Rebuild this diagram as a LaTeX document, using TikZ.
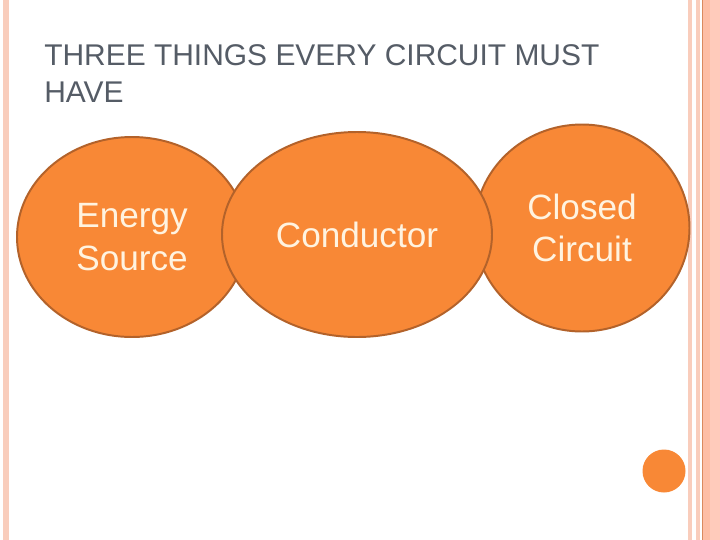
\documentclass[tikz,border=0pt]{standalone}
\usepackage{fontspec}
\setmainfont{Liberation Sans}
\usetikzlibrary{shapes.geometric}
\definecolor{blobFill}{HTML}{F88836}
\definecolor{blobLine}{HTML}{B3622A}
\definecolor{blobText}{HTML}{FFF3E0}
\definecolor{titleGray}{HTML}{555C66}
\definecolor{stripeLight}{HTML}{F9CDBC}
\definecolor{stripePeach}{HTML}{FDBEA5}
\definecolor{stripePink}{HTML}{FFCBBB}
\definecolor{stripeDark}{HTML}{D98A5E}

\begin{document}
\begin{tikzpicture}[
    blob/.style={ellipse, fill=blobFill, draw=blobLine, line width=1.4pt,
                 align=center, inner sep=0pt, text=blobText,
                 font=\fontsize{25}{30}\selectfont},
  ]
    \useasboundingbox (0,0) rectangle (18,-13.5);
    \fill[white] (0,0) rectangle (18,-13.5);

    % side stripes
    \fill[stripeLight] (0.075,0) rectangle (0.225,-13.5);
    \fill[stripeLight] (17.2,0) rectangle (17.3,-13.5);
    \fill[stripeLight] (17.4,0) rectangle (17.5,-13.5);
    \fill[stripePeach] (17.55,0) rectangle (17.75,-13.5);
    \fill[stripePink]  (17.75,0) rectangle (18,-13.5);
    \fill[stripeDark]  (17.55,0) rectangle (17.585,-13.5);

    % title
    \node[anchor=north west, inner sep=0pt, align=left, text=titleGray,
          font=\fontsize{21.3}{26.3}\selectfont] (title) at (1.1,-1.1)
      {THREE THINGS EVERY CIRCUIT MUST\\HAVE};

    % the three things
    \node[blob, minimum width=5.75cm, minimum height=5cm]
      (source) at (3.3,-5.925) {Energy\\Source};
    \node[blob, minimum width=5.375cm, minimum height=5.175cm]
      (closed) at (14.55,-5.7) {Closed\\Circuit};
    \node[blob, minimum width=6.75cm, minimum height=5.125cm]
      (conductor) at (8.925,-5.8625) {Conductor};

    \node[circle, fill=blobFill, minimum size=1.075cm, inner sep=0pt]
      (dot) at (16.6,-11.775) {};
  \end{tikzpicture}
\end{document}
